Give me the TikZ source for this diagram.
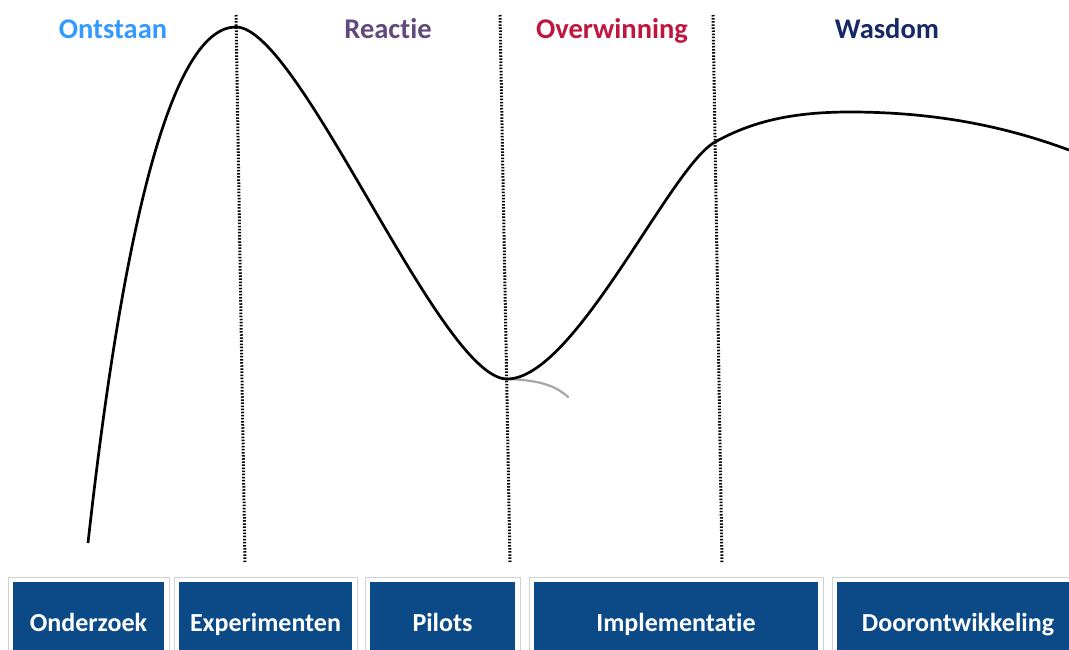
\documentclass[tikz,border=0pt]{standalone}
\usepackage{fontspec}
\setmainfont[RawFeature=-liga]{Carlito}
\definecolor{boxblue}{RGB}{11,74,134}
\definecolor{cOnt}{RGB}{51,153,255}
\definecolor{cRea}{RGB}{96,74,123}
\definecolor{cOve}{RGB}{190,22,62}
\definecolor{cWas}{RGB}{22,40,102}
\tikzset{
  phase/.style={font=\bfseries\fontsize{28.5}{32}\selectfont, anchor=base},
  outerbox/.style={fill=white, draw=black!18, line width=0.8pt},
  innerbox/.style={fill=boxblue, draw=none},
  boxlabel/.style={text=white, font=\bfseries\fontsize{26}{30}\selectfont, anchor=base},
  sep/.style={line width=3pt, dash pattern=on 1.5pt off 1.6pt},
  wave/.style={line width=2.7pt, black}
}
\begin{document}
\begin{tikzpicture}[x=1pt,y=-1pt]
\useasboundingbox (0,0) rectangle (1069,650);
\clip (0,0) rectangle (1069,650);
\fill[white] (0,0) rectangle (1069,650);
% phase titles
\node[phase, text=cOnt] (ont) at (113,39) {Ontstaan};
\node[phase, text=cRea] (rea) at (388,39) {Reactie};
\node[phase, text=cOve] (ove) at (612,39) {Overwinning};
\node[phase, text=cWas] (was) at (887,39) {Wasdom};
% separators
\coordinate (s1t) at (236,15); \coordinate (s1b) at (245,562);
\coordinate (s2t) at (500,15); \coordinate (s2b) at (510,562);
\coordinate (s3t) at (713,15); \coordinate (s3b) at (722,563);
\draw[sep] (s1t) -- (s1b);
\draw[sep] (s2t) -- (s2b);
\draw[sep] (s3t) -- (s3b);
% curve
\coordinate (c0) at (88,543);
\coordinate (c1) at (236,27);
\coordinate (c2) at (507,379);
\coordinate (c3) at (715,142);
\coordinate (c4) at (850,112);
\coordinate (c5) at (1069,150);
\coordinate (g1) at (568,397);
\draw[gray!70, line width=2.2pt, line cap=round] (c2) .. controls (540,380) and (556,386) .. (g1);
\draw[wave] (c0) .. controls (126,200) and (176,27) .. (c1)
  .. controls (300,27) and (440,379) .. (c2)
  .. controls (575,379) and (670,167) .. (c3)
  .. controls (752,121.5) and (792,112) .. (c4)
  .. controls (950,112) and (1020,132) .. (c5);
% boxes
\foreach \l/\r/\n in {13/164/b1, 179/352/b2, 370/515/b3, 534/818/b4, 837/1079/b5}{
  \draw[outerbox] (\l-5,577) rectangle (\r+5,660);
  \fill[innerbox] (\l,582) rectangle (\r,660);
}
\node[boxlabel] (l1) at (88.5,631) {Onderzoek};
\node[boxlabel] (l2) at (265.5,631) {Experimenten};
\node[boxlabel] (l3) at (442.5,631) {Pilots};
\node[boxlabel] (l4) at (676,631) {Implementatie};
\node[boxlabel] (l5) at (958,631) {Doorontwikkeling};
\end{tikzpicture}
\end{document}
